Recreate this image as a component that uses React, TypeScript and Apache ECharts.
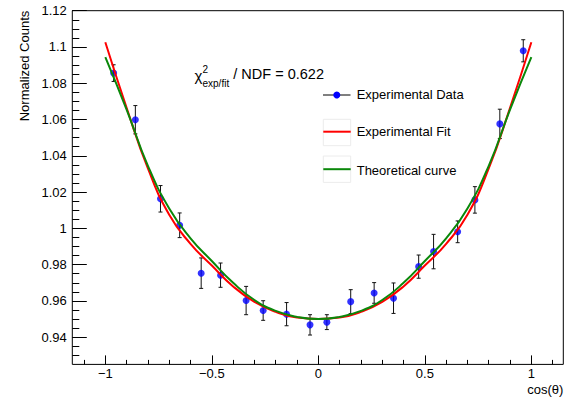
import React, { useEffect, useRef } from 'react';
import * as echarts from 'echarts';

// Experimental data (cos(theta), normalized counts, error)
const cosTheta = [-0.961, -0.859, -0.741, -0.651, -0.55, -0.459, -0.339, -0.259, -0.149, -0.039, 0.04, 0.152, 0.262, 0.353, 0.471, 0.541, 0.654, 0.735, 0.852, 0.962];
const normCounts = [1.0856, 1.0599, 1.0163, 1.0017, 0.9753, 0.9742, 0.9602, 0.9547, 0.9527, 0.9468, 0.9483, 0.9596, 0.9644, 0.9615, 0.9789, 0.9872, 0.9981, 1.0157, 1.0576, 1.0979];
const countErrors = [0.0046, 0.0078, 0.0073, 0.0068, 0.0084, 0.0067, 0.0078, 0.0054, 0.0064, 0.0056, 0.0041, 0.0066, 0.0057, 0.0084, 0.0064, 0.0095, 0.006, 0.0073, 0.0081, 0.0061];

// Curves
const curveX = [-1, -0.9, -0.8, -0.7, -0.6, -0.5, -0.4, -0.3, -0.2, -0.1, 0, 0.1, 0.2, 0.3, 0.4, 0.5, 0.6, 0.7, 0.8, 0.9, 1];
const fitCurve = [1.1026, 1.0665, 1.033, 1.0075, 0.9915, 0.9795, 0.968, 0.9595, 0.954, 0.9508, 0.95, 0.9508, 0.954, 0.9595, 0.968, 0.9795, 0.9915, 1.0075, 1.033, 1.0665, 1.1026];
const theoryCurve = [1.0944, 1.0655, 1.0345, 1.011, 0.9945, 0.982, 0.97, 0.9605, 0.9545, 0.9512, 0.95, 0.9512, 0.9545, 0.9605, 0.97, 0.982, 0.9945, 1.011, 1.0345, 1.0655, 1.0944];

const xAxisTitle = 'cos(θ)';
const yAxisTitle = 'Normalized Counts';
const legendNames = ['Experimental Data', 'Experimental Fit', 'Theoretical curve'];
const chiValue = '0.622';

const FONT = '"Liberation Sans", Arial, Helvetica, sans-serif';

export default function App() {
  const ref = useRef<HTMLDivElement>(null);
  useEffect(() => {
    const chart = echarts.init(ref.current as HTMLDivElement, null, { renderer: 'svg' });
    const W = 568, H = 398;
    const L = 72.3, T = 10.7, R = 4.7, B = 33.6;
    const X_MIN = -1.155, X_MAX = 1.15, Y_MIN = 0.925, Y_MAX = 1.12;
    const pxX = (W - L - R) / (X_MAX - X_MIN);
    const pxY = (H - T - B) / (Y_MAX - Y_MIN);
    const gridFor = (x0: number, x1: number, y0: number, y1: number) => ({
      left: L + (x0 - X_MIN) * pxX,
      right: R + (X_MAX - x1) * pxX,
      top: T + (Y_MAX - y1) * pxY,
      bottom: B + (y0 - Y_MIN) * pxY,
      outerBoundsMode: 'none',
      containLabel: false,
    });
    const hidden = (gridIndex: number, min: number, max: number) => ({
      type: 'value', gridIndex, min, max, show: false, splitLine: { show: false },
      axisLine: { show: false, onZero: false },
    });
    const fmt = (v: number) => {
      const r = Math.round(v * 1000) / 1000;
      return r < 0 ? '\u2212' + String(Math.abs(r)) : String(r);
    };
    const tickStyle = { color: '#000', width: 1 };
    const labelStyle = { color: '#000', fontSize: 13, fontFamily: FONT, showMinLabel: true, showMaxLabel: true };

    const option: any = {
      animation: false,
      backgroundColor: '#fff',
      grid: [
        { ...gridFor(X_MIN, X_MAX, Y_MIN, Y_MAX), show: true, borderColor: '#000', borderWidth: 1, backgroundColor: 'transparent' },
        gridFor(-1.1, 1.1, Y_MIN, Y_MAX),
        gridFor(-1, 1, Y_MIN, Y_MAX),
        gridFor(X_MIN, X_MAX, 0.93, Y_MAX),
        gridFor(X_MIN, X_MAX, 0.94, Y_MAX),
      ],
      xAxis: [
        hidden(0, X_MIN, X_MAX),
        {
          type: 'value', gridIndex: 1, min: -1.1, max: 1.1, interval: 0.1, position: 'bottom',
          axisLine: { show: false, onZero: false }, splitLine: { show: false },
          axisTick: { show: true, inside: true, length: 4.5, lineStyle: tickStyle },
          axisLabel: { show: false },
        },
        {
          type: 'value', gridIndex: 2, min: -1, max: 1, interval: 0.5, position: 'bottom',
          axisLine: { show: false, onZero: false }, splitLine: { show: false },
          axisTick: { show: true, inside: true, length: 9, lineStyle: tickStyle },
          axisLabel: { ...labelStyle, margin: 3, formatter: fmt },
        },
        hidden(3, X_MIN, X_MAX),
        hidden(4, X_MIN, X_MAX),
      ],
      yAxis: [
        hidden(0, Y_MIN, Y_MAX),
        hidden(1, Y_MIN, Y_MAX),
        hidden(2, Y_MIN, Y_MAX),
        {
          type: 'value', gridIndex: 3, min: 0.93, max: 1.12, interval: 0.005, position: 'left',
          axisLine: { show: false, onZero: false }, splitLine: { show: false },
          axisTick: { show: true, inside: true, length: 7, lineStyle: tickStyle },
          axisLabel: { show: false },
        },
        {
          type: 'value', gridIndex: 4, min: 0.94, max: 1.12, interval: 0.02, position: 'left',
          axisLine: { show: false, onZero: false }, splitLine: { show: false },
          axisTick: { show: true, inside: true, length: 14.5, lineStyle: tickStyle },
          axisLabel: { ...labelStyle, margin: 5.5, formatter: fmt },
        },
      ],
      series: [
        {
          type: 'custom',
          name: 'errors',
          xAxisIndex: 0,
          yAxisIndex: 0,
          silent: true,
          z: 2,
          data: cosTheta.map((x, i) => [x, normCounts[i], countErrors[i]]),
          encode: { x: 0, y: 1 },
          renderItem: (params: any, api: any) => {
            const x = api.value(0);
            const y = api.value(1);
            const e = api.value(2);
            const hi = api.coord([x, y + e]);
            const lo = api.coord([x, y - e]);
            const cx = hi[0];
            const st = { stroke: '#111', lineWidth: 1 };
            return {
              type: 'group',
              children: [
                { type: 'line', shape: { x1: cx, y1: hi[1], x2: cx, y2: lo[1] }, style: st },
                { type: 'line', shape: { x1: cx - 2, y1: hi[1], x2: cx + 2, y2: hi[1] }, style: st },
                { type: 'line', shape: { x1: cx - 2, y1: lo[1], x2: cx + 2, y2: lo[1] }, style: st },
              ],
            };
          },
        },
        {
          type: 'scatter',
          name: legendNames[0],
          xAxisIndex: 0,
          yAxisIndex: 0,
          z: 3,
          symbol: 'circle',
          symbolSize: 7,
          itemStyle: { color: '#0000ff' },
          data: cosTheta.map((x, i) => [x, normCounts[i]]),
        },
        {
          type: 'line',
          name: legendNames[1],
          xAxisIndex: 0,
          yAxisIndex: 0,
          z: 4,
          smooth: true,
          showSymbol: false,
          lineStyle: { color: '#ff0000', width: 2 },
          data: curveX.map((x, i) => [x, fitCurve[i]]),
        },
        {
          type: 'line',
          name: legendNames[2],
          xAxisIndex: 0,
          yAxisIndex: 0,
          z: 5,
          smooth: true,
          showSymbol: false,
          lineStyle: { color: '#0a880a', width: 2 },
          data: curveX.map((x, i) => [x, theoryCurve[i]]),
        },
      ],
      graphic: [
        // axis titles
        {
          type: 'text', x: 24, y: 66, rotation: Math.PI / 2,
          style: { text: yAxisTitle, fill: '#000', fontSize: 13, fontFamily: FONT, align: 'center', verticalAlign: 'middle' },
        },
        {
          type: 'text', x: 563.3, y: 389,
          style: { text: xAxisTitle, fill: '#000', fontSize: 13, fontFamily: FONT, align: 'right', verticalAlign: 'middle' },
        },
        // chi2 annotation
        {
          type: 'text', x: 194.5, y: 75,
          style: { text: 'χ', fill: '#000', fontSize: 15, fontFamily: FONT, align: 'left', verticalAlign: 'middle' },
        },
        {
          type: 'text', x: 202.5, y: 69.5,
          style: { text: '2', fill: '#000', fontSize: 10, fontFamily: FONT, align: 'left', verticalAlign: 'middle' },
        },
        {
          type: 'text', x: 202.5, y: 83.5,
          style: { text: 'exp/fit', fill: '#000', fontSize: 10, fontFamily: FONT, align: 'left', verticalAlign: 'middle' },
        },
        {
          type: 'text', x: 233.3, y: 74,
          style: { text: '/ NDF = ' + chiValue, fill: '#000', fontSize: 14.5, fontFamily: FONT, align: 'left', verticalAlign: 'middle' },
        },
        // legend: data
        { type: 'line', shape: { x1: 323, y1: 95, x2: 350.5, y2: 95 }, style: { stroke: '#000', lineWidth: 1 } },
        { type: 'circle', shape: { cx: 336.8, cy: 95, r: 3.5 }, style: { fill: '#0000ff' } },
        {
          type: 'text', x: 356.7, y: 94.5,
          style: { text: legendNames[0], fill: '#000', fontSize: 13, fontFamily: FONT, align: 'left', verticalAlign: 'middle' },
        },
        // legend: fit
        { type: 'rect', shape: { x: 323.3, y: 119.3, width: 27.4, height: 26.4 }, style: { fill: 'none', stroke: '#ececec', lineWidth: 1 } },
        { type: 'line', shape: { x1: 323.3, y1: 131.7, x2: 350.7, y2: 131.7 }, style: { stroke: '#ff0000', lineWidth: 2 } },
        {
          type: 'text', x: 356.7, y: 131.7,
          style: { text: legendNames[1], fill: '#000', fontSize: 13, fontFamily: FONT, align: 'left', verticalAlign: 'middle' },
        },
        // legend: theory
        { type: 'rect', shape: { x: 323.3, y: 156, width: 27.4, height: 26.4 }, style: { fill: 'none', stroke: '#ececec', lineWidth: 1 } },
        { type: 'line', shape: { x1: 323.3, y1: 169.2, x2: 350.7, y2: 169.2 }, style: { stroke: '#0a880a', lineWidth: 2 } },
        {
          type: 'text', x: 356.7, y: 170,
          style: { text: legendNames[2], fill: '#000', fontSize: 13, fontFamily: FONT, align: 'left', verticalAlign: 'middle' },
        },
      ],
    };
    chart.setOption(option);
    return () => chart.dispose();
  }, []);
  return (
    <div
      ref={ref}
      style={{ position: 'fixed', left: 0, top: 0, width: 568, height: 398, background: '#fff' }}
    />
  );
}
